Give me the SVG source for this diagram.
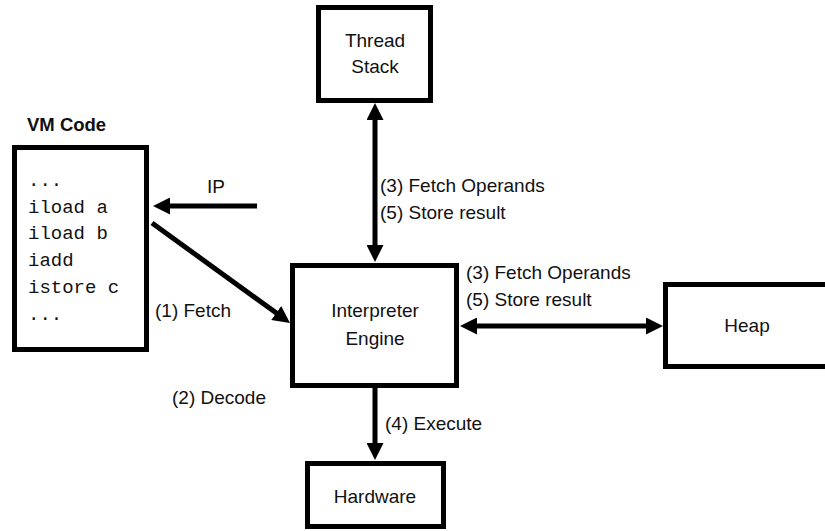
<svg xmlns="http://www.w3.org/2000/svg" width="825" height="531" viewBox="0 0 825 531">
  <style>
    .box { fill: #fff; stroke: #000; stroke-width: 5; }
    .lbl { font-family: "Liberation Sans", Arial, sans-serif; font-size: 19px; fill: #111; }
    .mid { text-anchor: middle; }
    .title { font-weight: bold; font-size: 18.5px; }
    .code { font-family: "Liberation Mono", "Courier New", monospace; font-size: 19px; fill: #111; }
    .wire { fill: none; stroke: #000; stroke-width: 5; }
  </style>
  <defs>
    <marker id="head" viewBox="0 0 17 17" refX="7" refY="8.5" markerWidth="17" markerHeight="17" markerUnits="userSpaceOnUse" orient="auto-start-reverse">
      <path d="M0,0 L17,8.5 L0,17 z" fill="#000"/>
    </marker>
  </defs>

  <rect width="825" height="531" fill="#fff"/>

  <!-- bytecode listing -->
  <g id="vm-code">
    <text class="lbl title" x="27" y="131">VM Code</text>
    <rect class="box" x="14.5" y="147.5" width="132" height="202"/>
    <text class="code" x="28" y="186">...</text>
    <text class="code" x="28" y="213">iload a</text>
    <text class="code" x="28" y="239">iload b</text>
    <text class="code" x="28" y="266">iadd</text>
    <text class="code" x="28" y="293">istore c</text>
    <text class="code" x="28" y="320">...</text>
  </g>

  <g id="thread-stack">
    <rect class="box" x="318.5" y="7.5" width="112" height="93"/>
    <text class="lbl mid" x="375" y="47">Thread</text>
    <text class="lbl mid" x="375" y="73">Stack</text>
  </g>

  <g id="interpreter">
    <rect class="box" x="292.5" y="265.5" width="164" height="120"/>
    <text class="lbl mid" x="375" y="317">Interpreter</text>
    <text class="lbl mid" x="375" y="345">Engine</text>
  </g>

  <g id="heap">
    <rect class="box" x="665.5" y="284.5" width="170" height="82"/>
    <text class="lbl mid" x="747" y="332">Heap</text>
  </g>

  <g id="hardware">
    <rect class="box" x="307.5" y="463.5" width="136" height="63"/>
    <text class="lbl mid" x="375" y="503">Hardware</text>
  </g>

  <!-- connectors -->
  <g id="connectors">
    <line class="wire" x1="257" y1="206" x2="163" y2="206" marker-end="url(#head)"/>
    <line class="wire" x1="152" y1="223" x2="281.9" y2="317.1" marker-end="url(#head)"/>
    <line class="wire" x1="375" y1="113" x2="375" y2="252" marker-start="url(#head)" marker-end="url(#head)"/>
    <line class="wire" x1="470" y1="326" x2="653" y2="326" marker-start="url(#head)" marker-end="url(#head)"/>
    <line class="wire" x1="375" y1="388" x2="375" y2="450" marker-end="url(#head)"/>
  </g>

  <g id="labels">
    <text class="lbl" x="207" y="193">IP</text>
    <text class="lbl" x="155" y="317">(1) Fetch</text>
    <text class="lbl" x="172" y="404">(2) Decode</text>
    <text class="lbl" x="380" y="192">(3) Fetch Operands</text>
    <text class="lbl" x="380" y="219">(5) Store result</text>
    <text class="lbl" x="466" y="279">(3) Fetch Operands</text>
    <text class="lbl" x="466" y="306">(5) Store result</text>
    <text class="lbl" x="385" y="430">(4) Execute</text>
  </g>
</svg>
